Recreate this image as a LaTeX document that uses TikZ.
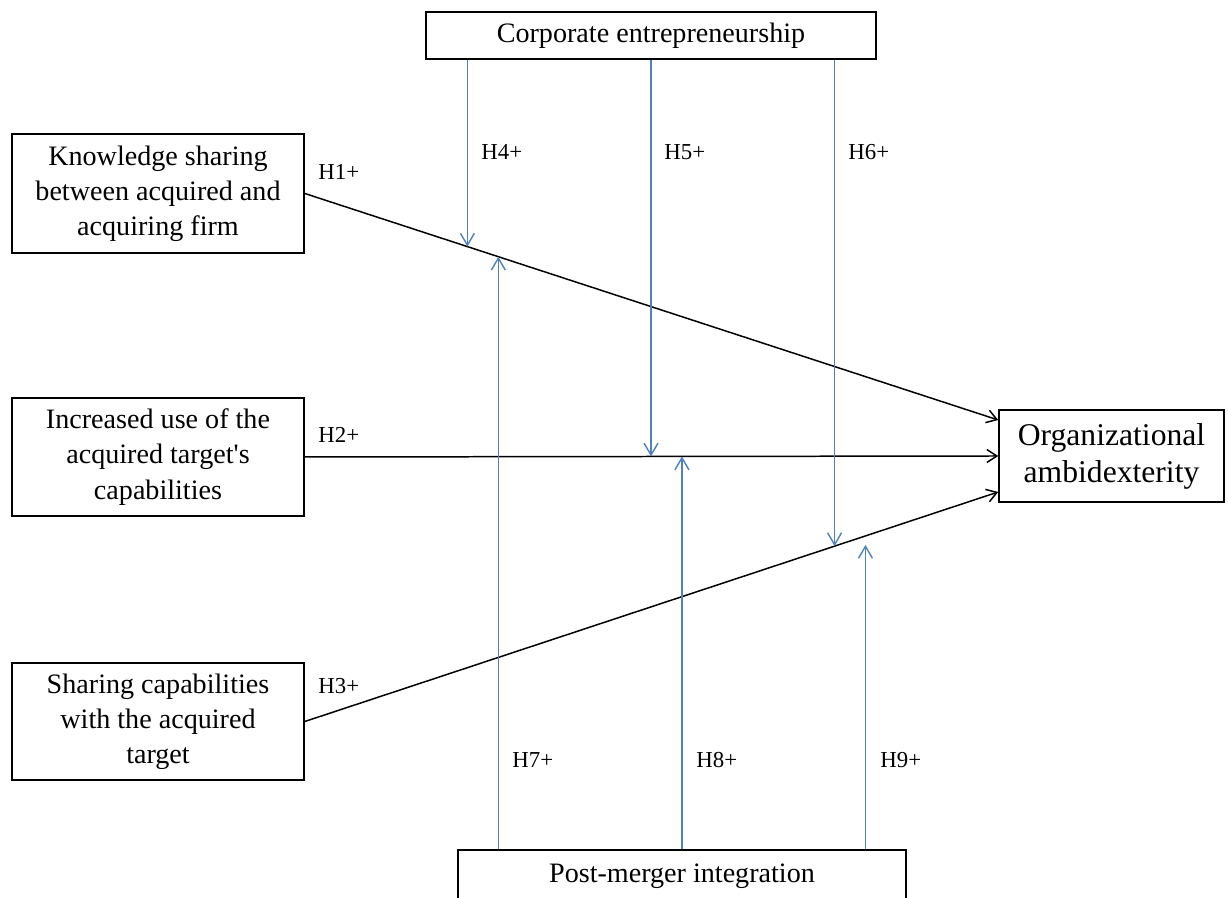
\documentclass[tikz,border=0pt]{standalone}
\usepackage{fontspec}
\setmainfont{Liberation Serif}
\usetikzlibrary{arrows.meta,calc}
\definecolor{hypblue}{RGB}{79,129,189}
\tikzset{
	varbox/.style={draw, line width=0.9pt, inner sep=0pt, align=center, font=\fontsize{16}{20}\selectfont},
	effect/.style={line width=0.85pt, -{Straight Barb[length=2mm,width=2.6mm]}},
	moder/.style={color=hypblue, line width=0.8pt, -{Straight Barb[length=2.4mm,width=2.8mm]}},
	hyp/.style={anchor=west, inner sep=0pt, font=\fontsize{13}{15}\selectfont}
}

\begin{document}
\begin{tikzpicture}
			%%%%% START %%%%%
			
			\useasboundingbox (0, 0) rectangle (24.56, 17.96);
			
			\node[varbox, minimum width=9cm, minimum height=0.94cm] (ce) at (13.02, 17.25) {Corporate entrepreneurship};
			\node[varbox, minimum width=8.96cm, minimum height=1.04cm] (pm) at (13.64, 0.44) {Post-merger integration};
			
			\node[varbox, minimum width=5.84cm, minimum height=2.38cm] (ks) at (3.16, 14.09) {Knowledge sharing\\between acquired and\\acquiring firm};
			\node[varbox, minimum width=5.84cm, minimum height=2.36cm] (iu) at (3.16, 8.82) {Increased use of the\\acquired target\textquotesingle s\\capabilities};
			\node[varbox, minimum width=5.84cm, minimum height=2.34cm] (sc) at (3.16, 3.53) {Sharing capabilities\\with the acquired\\target};
			\node[varbox, font=\fontsize{18}{21}\selectfont, minimum width=4.5cm, minimum height=1.84cm] (oa) at (22.23, 8.84) {Organizational\\ambidexterity};
			
			\coordinate (oa1) at ([yshift=0.72cm]oa.west);
			\coordinate (oa3) at ([yshift=-0.72cm]oa.west);
			
			\draw[effect] (ks.east) -- (oa1);
			\draw[effect] (iu.east) -- (oa.west);
			\draw[effect] (sc.east) -- (oa3);
			
			\coordinate (m4) at ($(ks.east)!0.2345!(oa1)$);
			\coordinate (m7) at ($(ks.east)!0.2791!(oa1)$);
			\coordinate (m5) at ($(iu.east)!0.4993!(oa.west)$);
			\coordinate (m8) at ($(iu.east)!0.5439!(oa.west)$);
			\coordinate (m6) at ($(sc.east)!0.764!(oa3)$);
			\coordinate (m9) at ($(sc.east)!0.8086!(oa3)+(0, -0.18)$);
			
			\draw[moder] (ce.south -| m4) -- (m4);
			\draw[moder] (ce.south -| m5) -- (m5);
			\draw[moder] (ce.south -| m6) -- (m6);
			
			\draw[moder] (pm.north -| m7) -- (m7);
			\draw[moder] (pm.north -| m8) -- (m8);
			\draw[moder] (pm.north -| m9) -- (m9);
			
			\node[hyp] (h1) at (6.36, 14.52) {H1+};
			\node[hyp] (h2) at (6.36, 9.26) {H2+};
			\node[hyp] (h3) at (6.36, 4.24) {H3+};
			
			\node[hyp] (h4) at (9.62, 14.92) {H4+};
			\node[hyp] (h5) at (13.28, 14.92) {H5+};
			\node[hyp] (h6) at (16.96, 14.92) {H6+};
			
			\node[hyp] (h7) at (10.24, 2.76) {H7+};
			\node[hyp] (h8) at (13.92, 2.76) {H8+};
			\node[hyp] (h9) at (17.60, 2.76) {H9+};
			
			%%%%% END %%%%%
\end{tikzpicture}
\end{document}
